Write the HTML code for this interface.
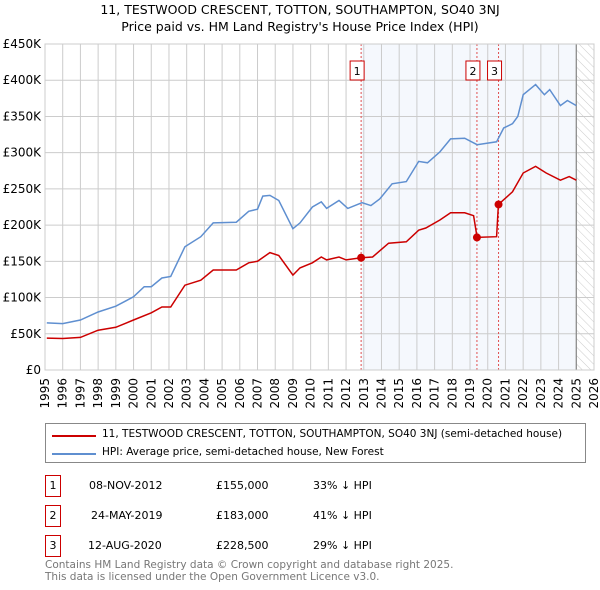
<!DOCTYPE html>
<html><head><meta charset="utf-8">
<style>
body{margin:0;background:#fff;font-family:"Liberation Sans","DejaVu Sans",sans-serif;}
#wrap{position:relative;width:600px;height:590px;overflow:hidden;}
svg text{font-family:"DejaVu Sans","Liberation Sans",sans-serif;}
.row{position:absolute;font-size:11px;color:#000;font-family:"DejaVu Sans",sans-serif;}
.nb{position:absolute;left:45px;width:14px;height:20px;border:1px solid #c00;text-align:center;line-height:20px;font-size:11px;font-family:"DejaVu Sans",sans-serif;}
</style></head><body>
<div id="wrap">
<svg id="chart" width="600" height="420" style="position:absolute;left:0;top:0">
<defs><pattern id="hatch" width="6" height="6" patternUnits="userSpaceOnUse" patternTransform="rotate(-45)"><line x1="0" y1="0" x2="0" y2="6" stroke="#ccc" stroke-width="1"/></pattern></defs>
<text x="300" y="14" text-anchor="middle" font-size="12.5">11, TESTWOOD CRESCENT, TOTTON, SOUTHAMPTON, SO40 3NJ</text>
<text x="300" y="31" text-anchor="middle" font-size="12.5">Price paid vs. HM Land Registry's House Price Index (HPI)</text>
<g id="g"></g>
</svg>
<div style="position:absolute;left:45px;top:423px;width:539px;height:38px;border:1px solid #888;">
 <div style="position:absolute;left:6px;top:11px;width:44px;height:2px;background:#c00"></div>
 <div class="row" style="left:56px;top:4px;font-size:10.5px">11, TESTWOOD CRESCENT, TOTTON, SOUTHAMPTON, SO40 3NJ (semi-detached house)</div>
 <div style="position:absolute;left:6px;top:29px;width:44px;height:2px;background:#5f8fd0"></div>
 <div class="row" style="left:56px;top:22px;font-size:10.5px">HPI: Average price, semi-detached house, New Forest</div>
</div>
<div>
 <div class="nb" style="top:475px">1</div>
 <div class="row" style="left:89px;top:479px">08-NOV-2012</div>
 <div class="row" style="left:216px;top:479px">£155,000</div>
 <div class="row" style="left:313px;top:479px">33% ↓ HPI</div>
 <div class="nb" style="top:505px">2</div>
 <div class="row" style="left:91px;top:509px">24-MAY-2019</div>
 <div class="row" style="left:216px;top:509px">£183,000</div>
 <div class="row" style="left:313px;top:509px">41% ↓ HPI</div>
 <div class="nb" style="top:535px">3</div>
 <div class="row" style="left:88px;top:539px">12-AUG-2020</div>
 <div class="row" style="left:216px;top:539px">£228,500</div>
 <div class="row" style="left:313px;top:539px">29% ↓ HPI</div>
</div>
<div class="row" style="left:45px;top:560px;color:#777;line-height:11.5px;font-size:10.5px">Contains HM Land Registry data © Crown copyright and database right 2025.<br>This data is licensed under the Open Government Licence v3.0.</div>
</div>
<script>
const hpiYears=[1995.1,1996,1997,1998,1999,2000,2000.6,2001,2001.6,2002.1,2002.9,2003.8,2004.5,2005.8,2006.5,2007,2007.3,2007.7,2008.2,2009,2009.4,2010.1,2010.6,2010.9,2011.6,2012.1,2012.9,2013.4,2013.9,2014.6,2015.4,2016.1,2016.6,2017.3,2017.9,2018.7,2019.4,2020.5,2020.9,2021.4,2021.7,2022,2022.7,2023.2,2023.5,2024.1,2024.5,2025];
const hpiValues=[65,64,69,80,88,101,115,115,127,129,170,184,203,204,219,222,240,241,234,195,203,225,232,223,234,223,231,227,236,257,260,288,286,301,319,320,311,315,334,340,350,380,394,380,387,365,372,365];
const propYears=[1995.1,1996,1997,1998,1999,2000,2001,2001.6,2002.1,2002.9,2003.8,2004.5,2005.8,2006.5,2007,2007.7,2008.2,2009,2009.4,2010.1,2010.6,2010.9,2011.6,2012,2012.85,2013.5,2014.4,2015.4,2016.1,2016.5,2017.3,2017.9,2018.7,2019.2,2019.4,2020.5,2020.6,2021.4,2022,2022.7,2023.3,2024.1,2024.6,2025];
const propValues=[44,43.5,45,55,59,69,79,87,87,117,124,138,138,148,150,162,158,131,141,148,156,152,156,152,155,156,175,177,193,196,207,217,217,213,183,184,228.5,246,272,281,272,262,267,262];
const saleLabels=["1","2","3"];
const saleYears=[2012.85,2019.39,2020.61];
const saleValues=[155,183,228.5];
const yTicks=[0,50,100,150,200,250,300,350,400,450];
const yTickLabels=["£0","£50K","£100K","£150K","£200K","£250K","£300K","£350K","£400K","£450K"];
const xTicks=[1995,1996,1997,1998,1999,2000,2001,2002,2003,2004,2005,2006,2007,2008,2009,2010,2011,2012,2013,2014,2015,2016,2017,2018,2019,2020,2021,2022,2023,2024,2025,2026];

const L=45,R=594,T=44,B=370;
const X=y=>L+(y-1995)/(2026-1995)*(R-L);
const Y=v=>B-v/450*(B-T);
const NS='http://www.w3.org/2000/svg';
const g=document.getElementById('g');
function mk(t,a,p){const e=document.createElementNS(NS,t);for(const k in a)e.setAttribute(k,a[k]);(p||g).appendChild(e);return e;}
let e;
e=mk('rect',{x:X(2012.85),y:T,width:X(2025)-X(2012.85),height:B-T,fill:'#eef3fc',opacity:0.6});

e=mk('rect',{x:X(2025),y:T,width:R-X(2025),height:B-T,fill:'url(#hatch)'});

xTicks.forEach(t=>{const l=mk('line',{x1:X(t),x2:X(t),y1:T,y2:B,stroke:'#ccc','stroke-width':1});

const tx=mk('text',{x:X(t)+4,y:B+8,'font-size':12,transform:`rotate(-90 ${X(t)+4} ${B+8})`,'text-anchor':'end'});tx.textContent=t;
});
yTicks.forEach((t,i)=>{const l=mk('line',{x1:L,x2:R,y1:Y(t),y2:Y(t),stroke:'#ccc','stroke-width':1});

const tx=mk('text',{x:L-4,y:Y(t)+4,'font-size':12,'text-anchor':'end'});tx.textContent=yTickLabels[i];
});
e=mk('line',{x1:X(2025),x2:X(2025),y1:T,y2:B,stroke:'#888','stroke-width':1.2});

saleYears.forEach((s,i)=>{const l=mk('line',{x1:X(s),x2:X(s),y1:T,y2:B,stroke:'#e05050','stroke-width':1,'stroke-dasharray':'2,2'});
});
function path(xs,vs,col,name){const d=xs.map((x,i)=>(i?'L':'M')+X(x).toFixed(1)+','+Y(vs[i]).toFixed(1)).join('');
const p=mk('path',{d:d,fill:'none',stroke:col,'stroke-width':1.5});}
path(hpiYears,hpiValues,'#5f8fd0','hpi-line');
path(propYears,propValues,'#cc0000','property-line');
saleYears.forEach((s,i)=>{const c=mk('circle',{cx:X(s),cy:Y(saleValues[i]),r:4,fill:'#cc0000'});

const bw=14,bx=X(s)-bw/2-4;const r=mk('rect',{x:bx,y:61,width:bw,height:19,fill:'#fff',stroke:'#c00'});

const t=mk('text',{x:bx+bw/2,y:75,'font-size':11,'text-anchor':'middle'});t.textContent=saleLabels[i];
});
e=mk('rect',{x:L,y:T,width:R-L,height:B-T,fill:'none',stroke:'#ccc'});

</script>
</body></html>
